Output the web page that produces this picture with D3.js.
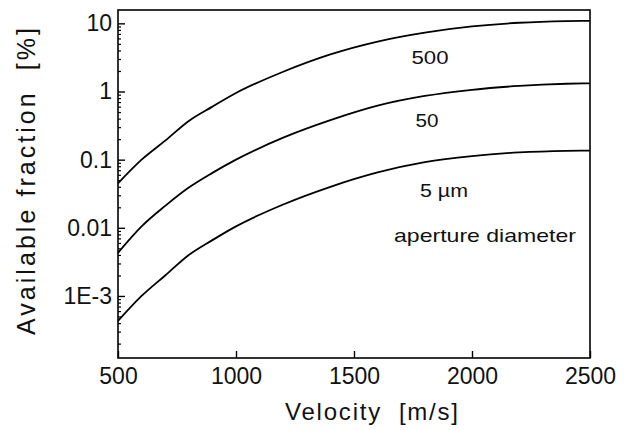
<!DOCTYPE html>
<html>
<head>
<meta charset="utf-8">
<script src="https://cdn.jsdelivr.net/npm/d3@7"></script>
<style>
  html, body { margin: 0; padding: 0; background: #fff; }
  svg { display: block; font-family: "Liberation Sans", Arial, Helvetica, sans-serif; }
  text { white-space: pre; }
</style>
</head>
<body>
<svg id="chart" width="632" height="430"></svg>
<script>
// ---- data ----
const velocity = [500, 600, 700, 800, 900, 1000, 1200, 1400, 1600, 1800, 2000, 2200, 2400, 2500];
const aperture500 = [0.045, 0.10, 0.19, 0.37, 0.60, 0.95, 1.95, 3.5, 5.4, 7.3, 9.0, 10.2, 10.8, 10.9];
const aperture50  = [0.0043, 0.0105, 0.021, 0.039, 0.064, 0.10, 0.21, 0.38, 0.62, 0.86, 1.06, 1.21, 1.30, 1.32];
const aperture5   = [0.00043, 0.0010, 0.002, 0.004, 0.0066, 0.0105, 0.022, 0.040, 0.065, 0.092, 0.113, 0.128, 0.135, 0.136];
const seriesNames = ["500", "50", "5 µm"];
const xTicks = [500, 1000, 1500, 2000, 2500];
const xTickLabels = ["500", "1000", "1500", "2000", "2500"];
const yTicks = [10, 1, 0.1, 0.01, 0.001];
const yTickLabels = ["10", "1", "0.1", "0.01", "1E-3"];
const xTitle = "Velocity  [m/s]";
const yTitle = "Available fraction  [%]";
const noteText = "aperture diameter";

// ---- layout ----
const L = 118, R = 590, T = 10, B = 358;
const svg = d3.select("#chart");

const x = d3.scaleLinear().domain([500, 2500]).range([L, R]);
const y = d3.scaleLog().domain([1.23e-4, 15.7]).range([B, T]);

// minor y ticks
const minorY = [];
for (let e = -4; e <= 1; e++) {
  for (let m = 2; m <= 9; m++) {
    const v = m * Math.pow(10, e);
    if (v >= y.domain()[0] && v <= y.domain()[1]) minorY.push(v);
  }
}

const gMinor = svg.append("g").attr("transform", `translate(${L},0)`)
  .call(d3.axisLeft(y).tickValues(minorY).tickSizeInner(-3).tickSizeOuter(0).tickFormat(""));
gMinor.select(".domain").remove();
gMinor.selectAll("line").attr("stroke", "#000").attr("stroke-width", 1.2);

const gy = svg.append("g").attr("transform", `translate(${L},0)`)
  .call(d3.axisLeft(y).tickValues(yTicks).tickSizeInner(-7).tickSizeOuter(0).tickPadding(6)
    .tickFormat((d, i) => yTickLabels[i]));
gy.select(".domain").remove();
gy.selectAll("line").attr("stroke", "#000").attr("stroke-width", 1.4);
gy.selectAll("text").attr("font-size", 23).attr("fill", "#111").attr("font-family", null);

const gx = svg.append("g").attr("transform", `translate(0,${B})`)
  .call(d3.axisBottom(x).tickValues(xTicks).tickSizeInner(-7).tickSizeOuter(0).tickPadding(10)
    .tickFormat((d, i) => xTickLabels[i]));
gx.select(".domain").remove();
gx.selectAll("line").attr("stroke", "#000").attr("stroke-width", 1.4);
gx.selectAll("text").attr("font-size", 23).attr("fill", "#111").attr("font-family", null);

// frame
svg.append("rect").attr("x", L).attr("y", T).attr("width", R - L).attr("height", B - T)
  .attr("fill", "none").attr("stroke", "#000").attr("stroke-width", 1.6);

// curves
const line = d3.line().x(d => x(d[0])).y(d => y(d[1])).curve(d3.curveMonotoneX);
[aperture500, aperture50, aperture5].forEach(vals => {
  svg.append("path")
    .datum(velocity.map((v, i) => [v, vals[i]]))
    .attr("d", line)
    .attr("fill", "none").attr("stroke", "#000").attr("stroke-width", 1.8);
});

// in-plot labels
const labelPos = [
  { cx: 430, by: 64, w: 37 },
  { cx: 427, by: 127, w: 23 },
  { cx: 444, by: 197, w: 48 }
];
seriesNames.forEach((s, i) => {
  svg.append("text").attr("x", labelPos[i].cx).attr("y", labelPos[i].by)
    .attr("text-anchor", "middle").attr("font-size", 19).attr("fill", "#111")
    .attr("textLength", labelPos[i].w).attr("lengthAdjust", "spacingAndGlyphs")
    .text(s);
});
svg.append("text").attr("x", 394).attr("y", 242)
  .attr("font-size", 19).attr("fill", "#111")
  .attr("textLength", 182).attr("lengthAdjust", "spacingAndGlyphs")
  .text(noteText);

// axis titles
svg.append("text").attr("x", 285).attr("y", 420)
  .attr("font-size", 24).attr("fill", "#111")
  .attr("textLength", 173).attr("lengthAdjust", "spacing")
  .text(xTitle);
svg.append("text").attr("transform", "translate(35,335) rotate(-90)")
  .attr("x", 0).attr("y", 0)
  .attr("font-size", 25).attr("fill", "#111")
  .attr("textLength", 307).attr("lengthAdjust", "spacing")
  .text(yTitle);
</script>
</body>
</html>
